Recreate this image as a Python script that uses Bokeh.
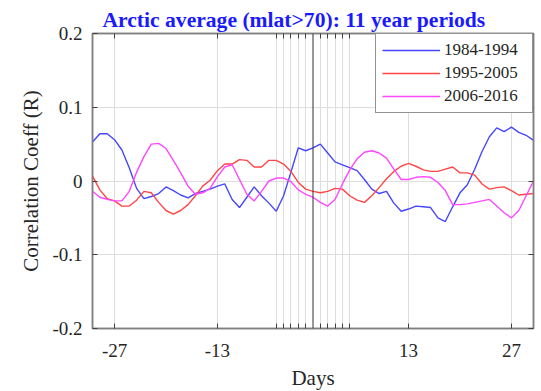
from bokeh.plotting import figure
from bokeh.models import (FixedTicker, LinearAxis, Span, Legend, LegendItem, Range1d)
from bokeh.embed import file_html
from bokeh.resources import INLINE

# Lag in days relative to the key date
days = list(range(-30, 31))

# Correlation coefficient per lag for each 11-year period
r_1984_1994 = [0.053, 0.064, 0.064, 0.056, 0.042, 0.018, -0.010, -0.024, -0.021, -0.017,
               -0.008, -0.013, -0.019, -0.023, -0.017, -0.014, -0.011, -0.007, -0.004, -0.025,
               -0.036, -0.022, -0.008, -0.020, -0.030, -0.041, -0.020, 0.012, 0.045, 0.041,
               0.045, 0.050, 0.038, 0.026, 0.022, 0.018, 0.014, 0.002, -0.011, -0.017,
               -0.014, -0.030, -0.041, -0.038, -0.034, -0.035, -0.036, -0.050, -0.055, -0.035,
               -0.016, -0.005, 0.016, 0.040, 0.060, 0.072, 0.067, 0.073, 0.066, 0.062,
               0.055]
r_1995_2005 = [0.007, -0.012, -0.024, -0.027, -0.034, -0.034, -0.026, -0.014, -0.016, -0.029,
               -0.040, -0.045, -0.040, -0.032, -0.020, -0.007, 0.001, 0.014, 0.023, 0.023,
               0.029, 0.028, 0.019, 0.019, 0.028, 0.028, 0.023, 0.013, -0.002, -0.011,
               -0.014, -0.016, -0.014, -0.010, -0.011, -0.020, -0.026, -0.029, -0.020, -0.009,
               0.003, 0.013, 0.020, 0.024, 0.020, 0.015, 0.013, 0.013, 0.016, 0.019,
               0.011, 0.011, 0.008, -0.004, -0.011, -0.009, -0.008, -0.013, -0.019, -0.018,
               -0.017]
r_2006_2016 = [-0.014, -0.022, -0.025, -0.027, -0.027, -0.014, 0.012, 0.033, 0.050, 0.051,
               0.044, 0.028, 0.011, -0.007, -0.018, -0.016, -0.010, 0.006, 0.019, 0.022,
               0.002, -0.018, -0.027, -0.014, 0.000, 0.004, 0.004, -0.001, -0.012, -0.018,
               -0.022, -0.029, -0.034, -0.025, -0.004, 0.015, 0.030, 0.039, 0.041, 0.038,
               0.031, 0.016, 0.002, 0.002, 0.005, 0.006, 0.005, -0.002, -0.013, -0.032,
               -0.032, -0.031, -0.029, -0.027, -0.025, -0.034, -0.043, -0.050, -0.040, -0.020,
               0.000]

series_names = ["1984-1994", "1995-2005", "2006-2016"]
series_colors = ["#4646ff", "#ff4646", "#ff46ff"]

x_ticks = [-27, -13, -5, -4, -3, -2, -1, 1, 2, 3, 4, 5, 13, 27]
x_labels = {-27: "-27", -13: "-13", 13: "13", 27: "27"}
y_ticks = [-0.2, -0.1, 0, 0.1, 0.2]
y_labels = {-0.2: "-0.2", -0.1: "-0.1", 0: "0", 0.1: "0.1", 0.2: "0.2"}

SERIF = "Liberation Serif"
TEXT = "#262626"
FRAME = "#808080"

p = figure(frame_width=441, frame_height=295,
           min_border_left=92, min_border_right=8, min_border_top=33, min_border_bottom=63,
           x_range=Range1d(-30, 30), y_range=Range1d(-0.2, 0.2),
           output_backend="svg", toolbar_location=None,
           title="Arctic average (mlat>70): 11 year periods")

p.title.text_font = SERIF
p.title.text_font_size = "21.6px"
p.title.text_font_style = "bold"
p.title.text_color = "#1a1aff"
p.title.align = "left"
p.title.offset = 10
p.title.standoff = 4

p.outline_line_color = FRAME
p.outline_line_width = 1.5
p.background_fill_color = "white"
p.border_fill_color = "white"

xt = FixedTicker(ticks=x_ticks)
yt = FixedTicker(ticks=y_ticks)

xa = p.xaxis[0]
xa.ticker = xt
xa.major_label_overrides = {t: x_labels.get(t, "") for t in x_ticks}
xa.axis_label = "Days"
ya = p.yaxis[0]
ya.ticker = yt
ya.major_label_overrides = y_labels
ya.axis_label = "Correlation Coeff (R)"

for ax in (xa, ya):
    ax.axis_line_color = FRAME
    ax.axis_line_width = 1.5
    ax.major_tick_in = 5
    ax.major_tick_out = 0
    ax.major_tick_line_color = "#404040"
    ax.minor_tick_line_color = None
    ax.major_label_text_font = SERIF
    ax.major_label_text_font_size = "19px"
    ax.major_label_text_color = TEXT
    ax.axis_label_text_font = SERIF
    ax.axis_label_text_font_size = "21px"
    ax.axis_label_text_font_style = "normal"
    ax.axis_label_text_color = TEXT
xa.major_label_standoff = 15
xa.axis_label_standoff = 6
ya.major_label_standoff = 10
ya.axis_label_standoff = 6

# tick marks on the top and right edges of the box
top_ax = LinearAxis(ticker=xt, major_label_overrides={t: "" for t in x_ticks})
right_ax = LinearAxis(ticker=yt, major_label_overrides={t: "" for t in y_ticks})
for ax in (top_ax, right_ax):
    ax.axis_line_color = FRAME
    ax.axis_line_width = 1.5
    ax.major_tick_in = 5
    ax.major_tick_out = 0
    ax.major_tick_line_color = "#404040"
    ax.minor_tick_line_color = None
    ax.major_label_text_font_size = "0px"
    ax.major_label_standoff = 0
p.add_layout(top_ax, "above")
p.add_layout(right_ax, "right")

p.xgrid.ticker = xt
p.ygrid.ticker = yt
for g in (p.xgrid, p.ygrid):
    g.grid_line_color = "#dedede"
    g.grid_line_width = 1

# lag-zero marker
p.add_layout(Span(location=0, dimension="height", line_color="#303030", line_width=1))

renderers = []
for vals, col in zip([r_1984_1994, r_1995_2005, r_2006_2016], series_colors):
    r = p.line(days, vals, line_color=col, line_width=1.4)
    renderers.append(r)

legend = Legend(items=[LegendItem(label=n, renderers=[r]) for n, r in zip(series_names, renderers)],
                location="top_right", margin=0, padding=6, spacing=3,
                glyph_width=58, glyph_height=20, label_height=20, label_width=82,
                label_standoff=4,
                label_text_font=SERIF, label_text_font_size="17px", label_text_color=TEXT,
                border_line_color="#262626", border_line_width=1,
                background_fill_color="white", background_fill_alpha=1)
p.add_layout(legend, "center")

open("out.html", "w").write(file_html(p, INLINE))
